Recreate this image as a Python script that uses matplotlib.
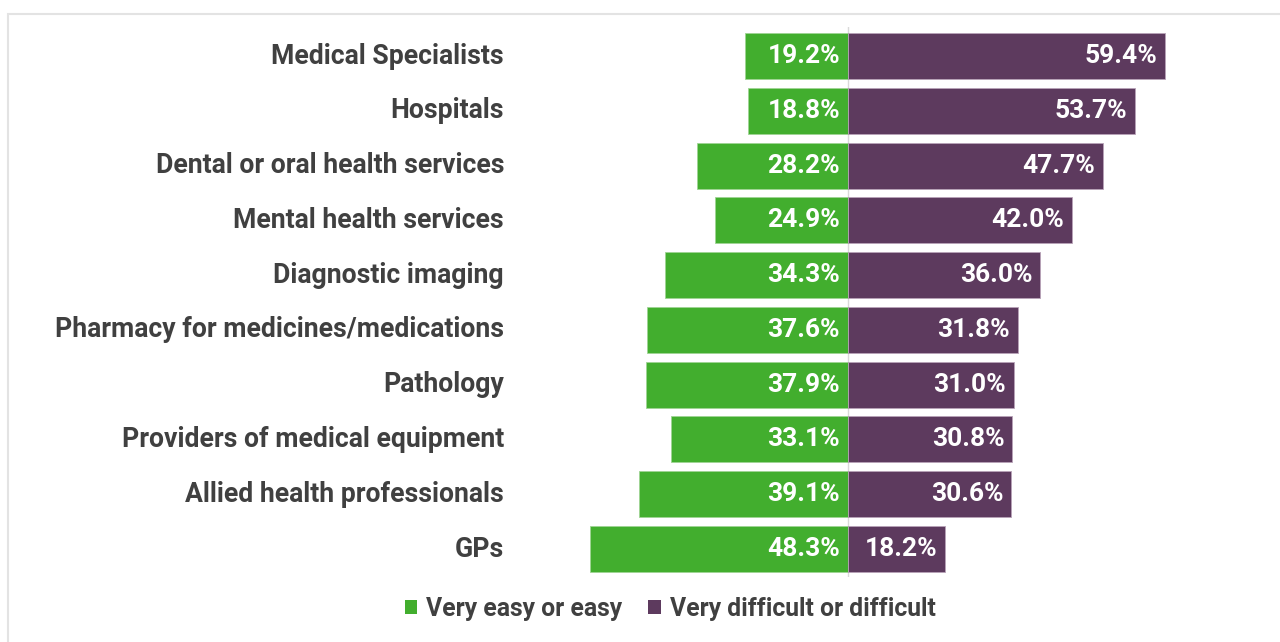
import matplotlib
matplotlib.use("Agg")
import matplotlib.pyplot as plt
from matplotlib.patches import Rectangle, Patch

plt.rcParams['font.family'] = ['Roboto', 'DejaVu Sans']

categories = ["Medical Specialists", "Hospitals", "Dental or oral health services",
              "Mental health services", "Diagnostic imaging",
              "Pharmacy for medicines/medications", "Pathology",
              "Providers of medical equipment", "Allied health professionals", "GPs"]
easy = [19.2, 18.8, 28.2, 24.9, 34.3, 37.6, 37.9, 33.1, 39.1, 48.3]
difficult = [59.4, 53.7, 47.7, 42.0, 36.0, 31.8, 31.0, 30.8, 30.6, 18.2]
series_names = ["Very easy or easy", "Very difficult or difficult"]

green = '#42AE2E'
purple = '#5D3A5E'
txt = '#404040'

W, H = 1280, 642
fig = plt.figure(figsize=(12.8, 6.42), dpi=100)

# light frame around the chart
fig.patches.append(Rectangle((8 / W, -0.1), 1.2, (H - 14) / H + 0.1,
                             transform=fig.transFigure, fill=False,
                             edgecolor='#E3E3E3', linewidth=1.5))

# axes placed in pixels: zero at x=848, 5.34 px per %
ax_l, ax_r, ax_t, ax_b = 520, 1270, 27, 577
ax = fig.add_axes([ax_l / W, 1 - ax_b / H, (ax_r - ax_l) / W, (ax_b - ax_t) / H])
scale = 5.34
ax.set_xlim(-(848 - ax_l) / scale, (ax_r - 848) / scale)
step = 54.78
ax.set_ylim((ax_b - 56) / step, -(56 - ax_t) / step)

y = list(range(len(categories)))
ax.barh(y, [-v for v in easy], height=0.84, color=green, edgecolor='#9FD494', linewidth=0.6)
ax.barh(y, difficult, height=0.84, color=purple, edgecolor='#B8A3B8', linewidth=0.6)
ax.axvline(0, color='#D9D9D9', linewidth=1, zorder=0)

off = 8 / scale
for i in y:
    ax.text(-off, i, f"{easy[i]:.1f}%", ha='right', va='center', color='white',
            fontsize=19, fontweight='bold')
    ax.text(difficult[i] - off, i, f"{difficult[i]:.1f}%", ha='right', va='center',
            color='white', fontsize=19, fontweight='bold')
    fig.text(504 / W, 1 - (56 + step * i) / H, categories[i], ha='right', va='center',
             color=txt, fontsize=19.2, fontweight='bold')

ax.axis('off')

handles = [Patch(facecolor=green), Patch(facecolor=purple)]
fig.legend(handles, series_names, loc='center', bbox_to_anchor=(670 / W, 1 - 609 / H),
           ncol=2, frameon=False, handlelength=0.52, handleheight=0.52, handletextpad=0.35,
           columnspacing=1.05, prop={'size': 17.8, 'weight': 'bold'}, labelcolor=txt)

fig.savefig("out.png", dpi=100)
